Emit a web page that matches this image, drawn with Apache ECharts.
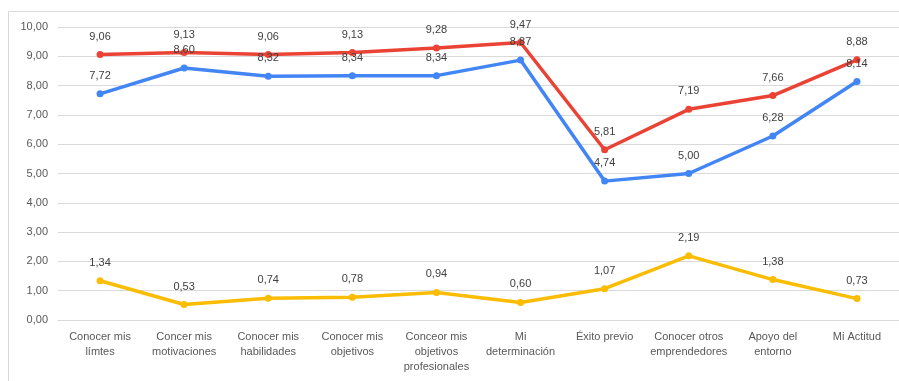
<!DOCTYPE html>
<html>
<head>
<meta charset="utf-8">
<script src="https://cdn.jsdelivr.net/npm/echarts@6/dist/echarts.min.js"></script>
<style>
html,body{margin:0;padding:0;background:#fff;}
#chart{width:899px;height:381px;}
</style>
</head>
<body>
<div id="chart"></div>
<script>
const categories = [
  "Conocer mis\nlímtes",
  "Concer mis\nmotivaciones",
  "Conocer mis\nhabilidades",
  "Conocer mis\nobjetivos",
  "Conceor mis\nobjetivos\nprofesionales",
  "Mi\ndeterminación",
  "Éxito previo",
  "Conocer otros\nemprendedores",
  "Apoyo del\nentorno",
  "Mi Actitud"
];
const blueValues = [7.72, 8.60, 8.32, 8.34, 8.34, 8.87, 4.74, 5.00, 6.28, 8.14];
const redValues = [9.06, 9.13, 9.06, 9.13, 9.28, 9.47, 5.81, 7.19, 7.66, 8.88];
const yellowValues = [1.34, 0.53, 0.74, 0.78, 0.94, 0.60, 1.07, 2.19, 1.38, 0.73];

const fmt = v => Number(v).toFixed(2).replace('.', ',');
const FONT = '"Liberation Sans", Arial, sans-serif';

function mkSeries(name, data, color) {
  return {
    name: name,
    type: 'line',
    data: data,
    symbol: 'circle',
    symbolSize: 7,
    lineStyle: { width: 3.5, color: color },
    itemStyle: { color: color },
    label: {
      show: true,
      position: 'top',
      distance: 9,
      formatter: p => fmt(p.value),
      color: '#404040',
      fontSize: 11,
      fontFamily: FONT
    },
    animation: false
  };
}

const chart = echarts.init(document.getElementById('chart'), null, { renderer: 'canvas' });
chart.setOption({
  animation: false,
  backgroundColor: '#fff',
  graphic: [{
    type: 'rect',
    shape: { x: 8.5, y: 11.5, width: 1000, height: 1000 },
    style: { fill: 'none', stroke: '#d9d9d9', lineWidth: 1 },
    silent: true,
    z: -10
  }],
  grid: { left: 58, top: 27, width: 843, height: 293, containLabel: false },
  xAxis: {
    type: 'category',
    data: categories,
    boundaryGap: true,
    axisLine: { show: true, lineStyle: { color: '#d9d9d9' } },
    axisTick: { show: false },
    axisLabel: {
      interval: 0,
      color: '#595959',
      fontSize: 11,
      fontFamily: FONT,
      lineHeight: 15,
      margin: 9
    }
  },
  yAxis: {
    type: 'value',
    min: 0,
    max: 10,
    interval: 1,
    axisLine: { show: false },
    axisTick: { show: false },
    splitLine: { lineStyle: { color: '#d9d9d9', width: 1 } },
    axisLabel: {
      formatter: v => fmt(v),
      color: '#595959',
      fontSize: 11,
      fontFamily: FONT,
      margin: 10
    }
  },
  series: [
    mkSeries('A', blueValues, '#4285F4'),
    mkSeries('B', redValues, '#EA4335'),
    mkSeries('C', yellowValues, '#FBBC04')
  ]
});
</script>
</body>
</html>
